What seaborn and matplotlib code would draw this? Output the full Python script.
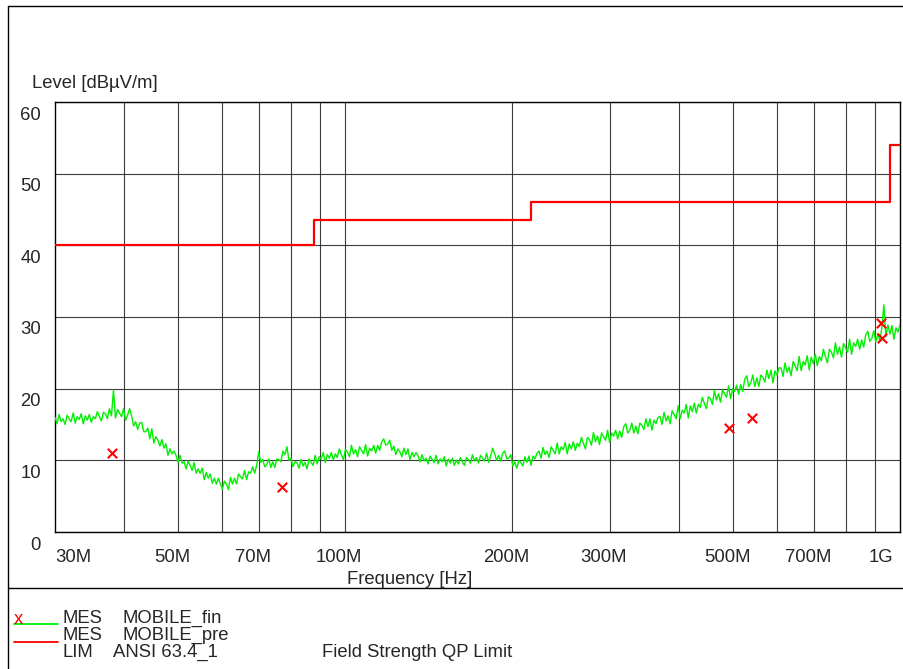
import numpy as np
import pandas as pd
import matplotlib
matplotlib.use("Agg")
import matplotlib.pyplot as plt
import matplotlib.transforms as mtransforms
from matplotlib.lines import Line2D
from matplotlib.ticker import FixedLocator, NullLocator, NullFormatter
import seaborn as sns

# Pre-scan sweep (dBuV/m), log-spaced from 30 MHz to 1 GHz
scan_start = 30e6
scan_stop = 1e9
scan_level = [
    16.0, 15.1, 16.4, 15.4, 15.8, 15.0, 16.3, 15.8, 15.4, 16.6, 15.2, 16.1, 15.7, 16.5, 15.1, 16.2, 15.6, 16.4, 15.3, 16.1,
    15.8, 16.8, 16.1, 15.5, 16.7, 16.5, 15.8, 17.2, 16.2, 19.8, 15.9, 17.1, 16.6, 16.1, 17.2, 15.6, 16.3, 17.2, 16.2, 14.8,
    15.4, 14.3, 15.2, 15.3, 14.0, 14.0, 14.5, 13.0, 14.4, 12.4, 13.3, 12.8, 12.0, 12.9, 11.7, 12.3, 10.7, 11.6, 10.9, 11.3,
    10.7, 9.7, 10.7, 9.6, 9.8, 8.8, 9.9, 9.3, 8.6, 9.7, 8.2, 8.8, 8.2, 8.9, 7.3, 8.3, 7.5, 8.1, 6.8, 7.5,
    6.7, 7.5, 6.7, 6.0, 7.1, 6.7, 5.9, 7.6, 6.7, 7.5, 6.7, 8.1, 7.7, 7.4, 8.6, 7.3, 8.4, 8.2, 9.1, 8.2,
    9.3, 11.2, 9.7, 10.1, 9.1, 9.4, 10.2, 9.0, 9.8, 9.0, 10.2, 10.1, 9.8, 11.3, 10.8, 11.9, 10.0, 10.3, 9.1, 9.8,
    9.7, 8.9, 10.1, 9.2, 9.7, 8.8, 10.2, 9.7, 9.3, 10.7, 9.5, 10.5, 10.2, 11.1, 9.7, 10.8, 10.3, 11.1, 10.1, 10.9,
    10.4, 11.6, 10.8, 10.1, 11.5, 11.2, 10.5, 12.1, 10.9, 11.5, 10.5, 11.9, 11.4, 10.9, 12.2, 10.6, 11.7, 11.3, 12.1, 11.0,
    12.1, 11.4, 12.6, 13.0, 12.1, 12.3, 12.8, 11.4, 12.0, 10.8, 11.6, 11.2, 10.5, 11.7, 10.8, 11.6, 10.1, 11.1, 10.5, 11.1,
    10.6, 9.8, 10.8, 9.9, 10.3, 9.5, 10.6, 10.1, 9.7, 10.7, 9.5, 10.2, 9.8, 10.5, 9.2, 10.2, 9.6, 10.3, 9.3, 10.0,
    9.5, 10.4, 9.8, 9.3, 10.4, 10.1, 9.6, 10.8, 9.9, 10.4, 9.6, 10.7, 10.3, 9.9, 11.0, 9.7, 10.6, 11.7, 10.9, 10.0,
    10.7, 9.9, 11.0, 11.3, 10.2, 10.3, 10.8, 9.2, 9.8, 8.9, 10.0, 9.7, 9.2, 10.5, 9.7, 10.6, 9.3, 10.6, 10.2, 11.0,
    11.3, 10.3, 11.8, 10.8, 11.3, 10.4, 11.9, 11.4, 10.9, 12.4, 10.9, 11.9, 11.5, 12.5, 10.9, 12.3, 11.6, 12.6, 11.4, 12.4,
    11.9, 13.2, 12.4, 11.6, 13.2, 12.9, 12.1, 13.9, 12.6, 13.4, 12.2, 13.8, 13.3, 12.8, 14.2, 12.5, 13.8, 13.4, 14.2, 13.0,
    14.1, 13.2, 14.7, 15.1, 13.8, 14.2, 15.2, 13.8, 14.8, 13.7, 15.2, 14.9, 14.3, 15.8, 14.7, 15.8, 14.2, 15.6, 15.1, 16.0,
    16.1, 15.0, 16.7, 15.5, 16.2, 15.1, 16.9, 16.4, 15.8, 17.6, 15.8, 17.0, 16.6, 17.8, 15.9, 17.6, 16.8, 18.0, 16.6, 17.8,
    17.4, 18.8, 17.9, 17.2, 18.9, 18.6, 17.8, 19.8, 18.4, 19.3, 18.1, 19.8, 19.3, 18.8, 20.4, 18.6, 20.0, 19.6, 20.5, 19.2,
    20.6, 19.6, 21.3, 21.8, 20.3, 20.8, 21.9, 20.3, 21.5, 20.3, 21.9, 21.6, 20.9, 22.6, 21.4, 22.6, 20.8, 22.5, 21.9, 22.9,
    22.9, 21.7, 23.6, 22.3, 23.0, 21.8, 23.8, 23.2, 22.5, 24.5, 22.5, 23.8, 23.3, 24.6, 22.6, 24.4, 23.5, 24.8, 23.2, 24.5,
    23.9, 25.5, 24.5, 23.6, 25.5, 25.1, 24.3, 26.4, 24.8, 25.8, 24.4, 26.3, 25.7, 25.1, 26.9, 24.8, 26.4, 25.9, 26.9, 25.5,
    26.8, 25.8, 27.5, 28.0, 26.6, 27.0, 28.1, 26.5, 27.7, 26.6, 28.5, 31.7, 27.3, 28.9, 27.6, 28.8, 26.9, 28.5, 27.9, 28.9,
]
scan_freq = np.geomspace(scan_start, scan_stop, len(scan_level))

# Final quasi-peak measurements
final_freq = [38.0e6, 76.9e6, 491e6, 541e6, 923e6, 927e6]
final_level = [11.0, 6.3, 14.5, 15.9, 29.1, 27.1]

# ANSI 63.4 field strength QP limit
limit_freq = [30e6, 88e6, 216e6, 960e6, 1e9]
limit_level = [40.0, 43.5, 46.0, 54.0, 54.0]

# Axis labels
freq_grid = [40e6, 50e6, 60e6, 70e6, 80e6, 90e6, 100e6, 200e6, 300e6,
             400e6, 500e6, 600e6, 700e6, 800e6, 900e6]
freq_ticks = [30e6, 50e6, 70e6, 100e6, 200e6, 300e6, 500e6, 700e6, 1e9]
freq_labels = ["30M", "50M", "70M", "100M", "200M", "300M", "500M", "700M", "1G"]
level_ticks = [0, 10, 20, 30, 40, 50, 60]
level_labels = ["0", "10", "20", "30", "40", "50", "60"]

scan_df = pd.DataFrame({"freq": scan_freq, "level": scan_level})
final_df = pd.DataFrame({"freq": final_freq, "level": final_level})
limit_df = pd.DataFrame({"freq": limit_freq, "level": limit_level})

sns.set_style("white")
plt.rcParams["font.family"] = ["Liberation Sans", "DejaVu Sans"]

GREEN = "#00f000"
RED = "#ff0000"

W, H = 904, 669
fig = plt.figure(figsize=(W / 100, H / 100), dpi=100)
ax = fig.add_axes([55 / W, 137 / H, 845 / W, 430 / H])
ax.set_xscale("log")
ax.set_xlim(scan_start, scan_stop)
ax.set_ylim(0, 60)

# grid
ax.xaxis.set_major_locator(FixedLocator(freq_grid))
ax.xaxis.set_minor_locator(NullLocator())
ax.xaxis.set_major_formatter(NullFormatter())
ax.xaxis.set_minor_formatter(NullFormatter())
ax.yaxis.set_major_locator(FixedLocator(level_ticks))
ax.yaxis.set_major_formatter(NullFormatter())
ax.tick_params(which="both", length=0)
ax.grid(True, color="#1a1a1a", lw=0.8, alpha=0.85)
ax.set_axisbelow(True)
for s in ax.spines.values():
    s.set_color("black")
    s.set_linewidth(1.0)

sns.lineplot(data=scan_df, x="freq", y="level", ax=ax, color=GREEN,
             lw=1.0, estimator=None, sort=False, zorder=3)
sns.lineplot(data=limit_df, x="freq", y="level", ax=ax, color=RED,
             lw=1.6, estimator=None, sort=False, drawstyle="steps-post", zorder=4)
sns.scatterplot(data=final_df, x="freq", y="level", ax=ax, marker="x",
                color=RED, s=46, linewidth=1.5, zorder=5)
ax.set_xlabel("")
ax.set_ylabel("")

fs = 13.3
# tick labels
xtrans = mtransforms.blended_transform_factory(ax.transData, ax.transAxes)
for i, (f, lab) in enumerate(zip(freq_ticks, freq_labels)):
    dx = -6
    if i == 0:
        dx = 18
    elif i == len(freq_ticks) - 1:
        dx = -19
    t = mtransforms.offset_copy(xtrans, fig=fig, x=dx, y=-25, units="dots")
    ax.text(f, 0, lab, transform=t, ha="center", va="center", fontsize=fs)

ytrans = mtransforms.blended_transform_factory(fig.transFigure, ax.transData)
for v, lab in zip(level_ticks, level_labels):
    t = mtransforms.offset_copy(ytrans, fig=fig, x=0, y=-13, units="dots")
    ax.text(41 / W, v, lab, transform=t, ha="right", va="center", fontsize=fs,
            clip_on=False)

fig.text(32 / W, 1 - 84 / H, "Level [dB\u00b5V/m]", ha="left", va="center", fontsize=fs)
fig.text(410 / W, 1 - 580 / H, "Frequency [Hz]", ha="center", va="center", fontsize=fs)

# outer frame and separator
def fig_line(xs, ys, **kw):
    fig.add_artist(Line2D([x / W for x in xs], [1 - y / H for y in ys],
                          transform=fig.transFigure, **kw))

fig_line([7.5, 7.5], [5.5, H], color="black", lw=1.0)
fig_line([7.5, W], [5.5, 5.5], color="black", lw=1.0)
fig_line([7.5, W], [588, 588], color="black", lw=1.0)

# legend block
fig_line([14, 58], [624, 624], color=GREEN, lw=1.3)
fig_line([14, 58], [642, 642], color=RED, lw=1.3)
fig.text(18.5 / W, 1 - 619 / H, "x", color=RED, ha="center", va="center", fontsize=fs)
rows = [(618.5, "MES", "MOBILE_fin", 123), (635, "MES", "MOBILE_pre", 123),
        (652.5, "LIM", "ANSI 63.4_1", 113)]
for y, a, b, xb in rows:
    fig.text(63 / W, 1 - y / H, a, ha="left", va="center", fontsize=fs)
    fig.text(xb / W, 1 - y / H, b, ha="left", va="center", fontsize=fs)
fig.text(322 / W, 1 - 652.5 / H, "Field Strength QP Limit", ha="left", va="center", fontsize=fs)

fig.savefig("out.png", dpi=100)
